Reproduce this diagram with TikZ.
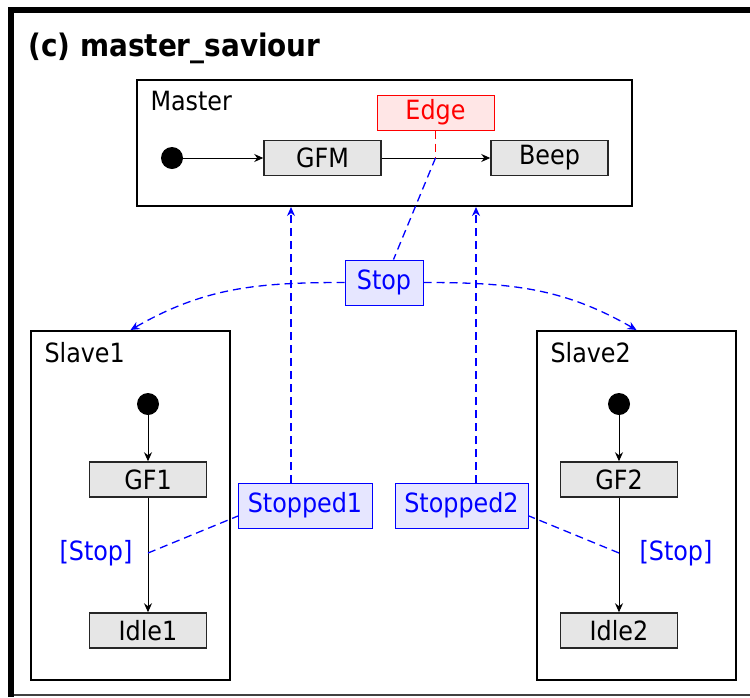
\documentclass[tikz,border=0pt]{standalone}
\usepackage{fontspec}
\setmainfont{DejaVu Sans Condensed}
\usetikzlibrary{positioning, arrows.meta}
\definecolor{boxgray}{RGB}{230,230,230}
\definecolor{sigfill}{RGB}{230,230,255}
\definecolor{evtfill}{RGB}{255,230,230}
\tikzset{
    state/.style={
        rectangle, draw=black!85, fill=boxgray, line width=1.5pt,
        minimum width=117pt, minimum height=35pt, inner sep=0pt
    },
    region/.style={
        rectangle, draw, line width=2pt, inner sep=0pt
    },
    init/.style={
        circle, fill=black, minimum size=22pt, inner sep=0pt
    },
    sig/.style={
        rectangle, draw=blue, fill=sigfill, text=blue, line width=1pt,
        minimum height=45pt, inner sep=0pt
    },
    evt/.style={
        rectangle, draw=red, fill=evtfill, text=red, line width=1pt,
        minimum width=117pt, minimum height=35pt, inner sep=0pt
    },
    mm/.style={
        -{Stealth[length=9pt, width=8pt]}, line width=1pt
    },
    dd/.style={
        blue, line width=1.3pt, dash pattern={on 8pt off 5pt}
    },
    ddm/.style={
        dd, -{Stealth[length=9pt, width=8pt]}
    }
}
\begin{document}
\begin{tikzpicture}[x=1pt, y=-1pt, font=\fontsize{26.5pt}{30pt}\selectfont]
        \useasboundingbox (0,0) rectangle (750,697);
        %\draw[help lines, step=50] (0,0) grid (750,697);

        % frame
        \draw[line width=6pt] (11,697) -- (11,10) -- (750,10);
        \draw[line width=1.5pt, black!75] (14,695) -- (750,695);
        \node[anchor=base west, font=\fontsize{31pt}{34pt}\selectfont\bfseries] (title) at (25,56) {(c) master\_saviour};

        % master
        \node[region, minimum width=495pt, minimum height=126pt] (master) at (384.5,143) {};
        \node[anchor=base west] (masterlbl) at (147,110) {Master};
        \node[init] (mdot) at (172,158) {};
        \node[state] (GFM)  at (322.5,158) {GFM};
        \node[state] (Beep) at (549.5,158) {Beep};
        \node[evt] (Edge)   at (435.5,112.5) {Edge};

        \node[sig, minimum width=78pt] (Stop) at (384,282.5) {Stop};

        % slaves
        \node[region, minimum width=199pt, minimum height=349pt] (Slave1) at (130.5,505.5) {};
        \node[anchor=base west] (slave1lbl) at (41,362) {Slave1};
        \node[init] (sdot1) at (148,404) {};
        \node[state] (GF1)   at (148,479.5) {GF1};
        \node[state] (Idle1) at (148,630.5) {Idle1};
        \node[text=blue] (guard1) at (96,553) {[Stop]};

        \node[region, minimum width=199pt, minimum height=349pt] (Slave2) at (636.5,505.5) {};
        \node[anchor=base west] (slave2lbl) at (547,362) {Slave2};
        \node[init] (sdot2) at (619,404) {};
        \node[state] (GF2)   at (619,479.5) {GF2};
        \node[state] (Idle2) at (619,630.5) {Idle2};
        \node[text=blue] (guard2) at (676,553) {[Stop]};

        \node[sig, minimum width=134pt] (Stopped1) at (305,505.5) {Stopped1};
        \node[sig, minimum width=133pt] (Stopped2) at (461.5,505.5) {Stopped2};

        \coordinate (ebreak) at (Edge.south |- GFM.east);
        \coordinate (hit1) at (GF1.south |- guard1);
        \coordinate (hit2) at (GF2.south |- guard2);
        \coordinate (up1) at (291,483);
        \coordinate (up2) at (476,483);
        \coordinate (s1left) at (238,516);
        \coordinate (s2right) at (529,516);

        \path (mdot) edge[mm] (GFM)
                (GFM) edge[mm] (Beep)
                (sdot1) edge[mm] (GF1)
                (GF1) edge[mm] (Idle1)
                (sdot2) edge[mm] (GF2)
                (GF2) edge[mm] (Idle2);

        \draw[dd, red] (Edge.south) -- (ebreak);
        \draw[dd] (ebreak) -- (Stop);
        \draw[ddm] (Stop.west) to[out=180, in=30] (Slave1.north);
        \draw[ddm] (Stop.east) to[out=0, in=150] (Slave2.north);
        \draw[ddm] (up1) -- (up1 |- master.south);
        \draw[ddm] (up2) -- (up2 |- master.south);
        \draw[dd] (hit1) -- (s1left);
        \draw[dd] (hit2) -- (s2right);
\end{tikzpicture}
\end{document}
